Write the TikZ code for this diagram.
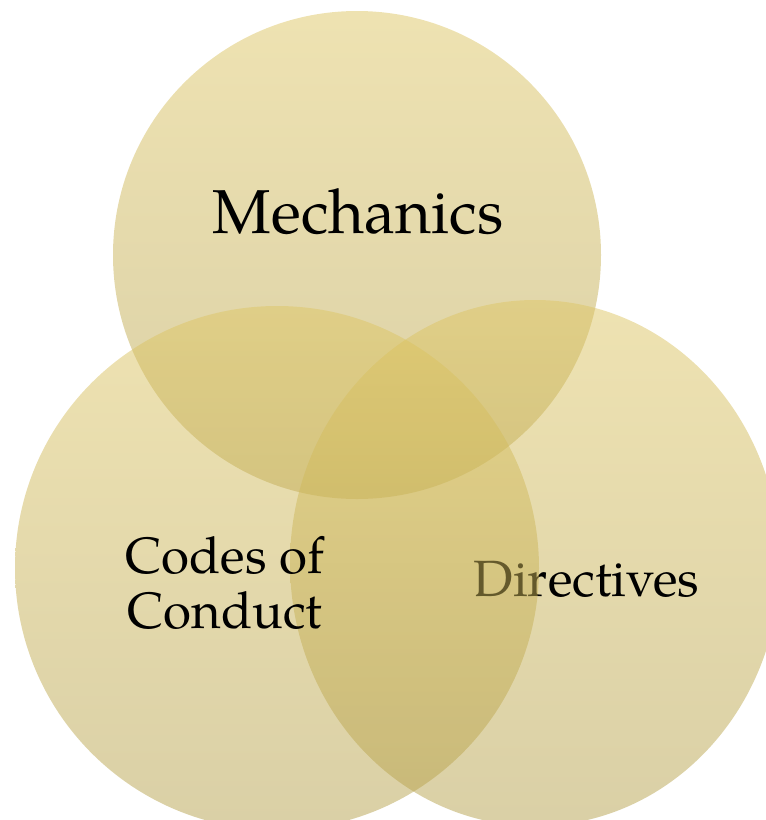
\documentclass[tikz,border=0pt]{standalone}
\usepackage{fontspec}
\setmainfont{TeX Gyre Pagella}
\definecolor{goldtop}{RGB}{222,198,100}
\definecolor{goldbot}{RGB}{181,161,77}
\begin{document}
\begin{tikzpicture}[x=1pt,y=-1pt,
  venn/.style={top color=goldtop, bottom color=goldbot, fill opacity=0.5, draw=none},
  lbl/.style={text=black, inner sep=0pt, anchor=base, text opacity=1}]
\useasboundingbox (0,0) rectangle (766,820);
\clip (0,0) rectangle (766,820);
\path[venn] (357,255) circle[radius=244pt];
\node[lbl, font=\fontsize{62}{68}\selectfont] (mech) at (358,233) {Mechanics};
\path[venn] (535,563) ellipse[x radius=245pt, y radius=263pt];
\node[lbl, font=\fontsize{51}{55}\selectfont] (dir) at (586.5,596) {Directives};
\path[venn] (277,568) circle[radius=262pt];
\node[lbl, align=center, font=\fontsize{51}{55}\selectfont] (codes) at (225,628) {Codes of\\Conduct};
\end{tikzpicture}
\end{document}
